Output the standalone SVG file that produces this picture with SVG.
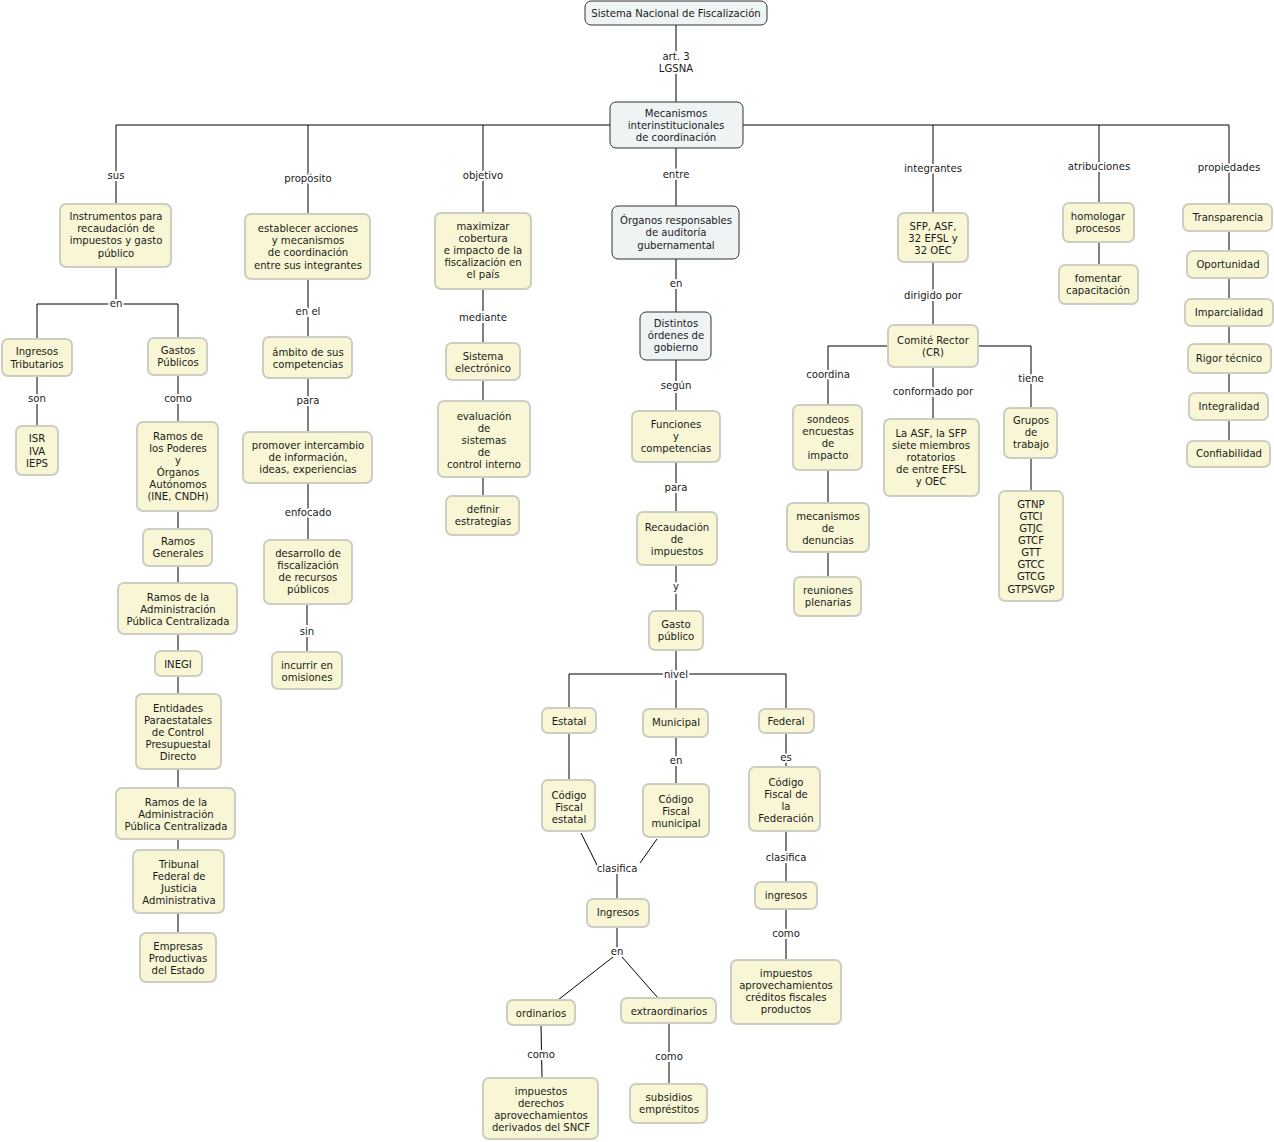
<svg xmlns="http://www.w3.org/2000/svg" width="1274" height="1142" viewBox="0 0 1274 1142">
<style>
.n{fill:#f8f6d4;stroke:#cdcdc2;stroke-width:2}
.b{fill:#eef3f4;stroke:#333;stroke-width:1}
text{font-family:"DejaVu Sans","Liberation Sans",sans-serif;font-size:10.1px;fill:#1a1a1a;text-anchor:middle}
.l{paint-order:stroke;stroke:#fff;stroke-width:4px;stroke-linejoin:round}
#connectors line,#connectors polyline{stroke:#000;stroke-width:1;fill:none}
</style>
<rect width="1274" height="1142" fill="#fff"/>
<g id="connectors">
<line x1="676" y1="25" x2="676" y2="102"/>
<line x1="116" y1="125" x2="1229" y2="125"/>
<line x1="116" y1="125" x2="116" y2="204"/>
<line x1="308" y1="125" x2="308" y2="214"/>
<line x1="483" y1="125" x2="483" y2="213"/>
<line x1="933" y1="125" x2="933" y2="213"/>
<line x1="1099" y1="125" x2="1099" y2="203"/>
<line x1="1229" y1="125" x2="1229" y2="441"/>
<line x1="676" y1="148" x2="676" y2="206"/>
<line x1="116" y1="267" x2="116" y2="304"/>
<polyline points="37,339 37,304 178,304 178,338"/>
<line x1="37" y1="376" x2="37" y2="426"/>
<line x1="178" y1="375" x2="178" y2="933"/>
<line x1="308" y1="279" x2="308" y2="337"/>
<line x1="308" y1="378" x2="308" y2="432"/>
<line x1="308" y1="483" x2="308" y2="540"/>
<line x1="307" y1="604" x2="307" y2="652"/>
<line x1="483" y1="289" x2="483" y2="343"/>
<line x1="483" y1="380" x2="483" y2="401"/>
<line x1="483" y1="477" x2="483" y2="496"/>
<line x1="676" y1="259" x2="676" y2="312"/>
<line x1="676" y1="360" x2="676" y2="411"/>
<line x1="676" y1="462" x2="676" y2="512"/>
<line x1="676" y1="565" x2="676" y2="611"/>
<line x1="676" y1="650" x2="676" y2="709"/>
<polyline points="569,708 569,674 786,674 786,709"/>
<line x1="569" y1="733" x2="569" y2="780"/>
<line x1="676" y1="737" x2="676" y2="784"/>
<line x1="786" y1="733" x2="786" y2="767"/>
<line x1="581" y1="833" x2="598" y2="867"/>
<line x1="657" y1="839" x2="640" y2="863"/>
<line x1="617" y1="870" x2="617" y2="899"/>
<line x1="617" y1="927" x2="617" y2="950"/>
<line x1="613" y1="957" x2="558" y2="1000"/>
<line x1="622" y1="957" x2="658" y2="998"/>
<line x1="541" y1="1025" x2="542" y2="1078"/>
<line x1="669" y1="1023" x2="669" y2="1084"/>
<line x1="786" y1="831" x2="786" y2="882"/>
<line x1="786" y1="909" x2="786" y2="960"/>
<line x1="933" y1="262" x2="933" y2="325"/>
<polyline points="888,346 828,346 828,405"/>
<polyline points="978,346 1031,346 1031,408"/>
<line x1="933" y1="367" x2="933" y2="419"/>
<line x1="828" y1="470" x2="828" y2="503"/>
<line x1="828" y1="552" x2="828" y2="577"/>
<line x1="1031" y1="458" x2="1031" y2="491"/>
<line x1="1099" y1="242" x2="1099" y2="265"/>
</g>
<g id="labels">
<text class="l" x="676" y="60">art. 3</text>
<text class="l" x="676" y="72">LGSNA</text>
<text class="l" x="116" y="179">sus</text>
<text class="l" x="308" y="182">propósito</text>
<text class="l" x="483" y="179">objetivo</text>
<text class="l" x="676" y="178">entre</text>
<text class="l" x="933" y="172">integrantes</text>
<text class="l" x="1099" y="170">atribuciones</text>
<text class="l" x="1229" y="171">propiedades</text>
<text class="l" x="116" y="307">en</text>
<text class="l" x="37" y="402">son</text>
<text class="l" x="178" y="402">como</text>
<text class="l" x="308" y="315">en el</text>
<text class="l" x="308" y="404">para</text>
<text class="l" x="308" y="516">enfocado</text>
<text class="l" x="307" y="635">sin</text>
<text class="l" x="483" y="321">mediante</text>
<text class="l" x="676" y="287">en</text>
<text class="l" x="676" y="389">según</text>
<text class="l" x="676" y="491">para</text>
<text class="l" x="676" y="590">y</text>
<text class="l" x="676" y="678">nivel</text>
<text class="l" x="676" y="764">en</text>
<text class="l" x="786" y="761">es</text>
<text class="l" x="617" y="872">clasifica</text>
<text class="l" x="617" y="955">en</text>
<text class="l" x="541" y="1058">como</text>
<text class="l" x="669" y="1060">como</text>
<text class="l" x="786" y="861">clasifica</text>
<text class="l" x="786" y="937">como</text>
<text class="l" x="933" y="299">dirigido por</text>
<text class="l" x="828" y="378">coordina</text>
<text class="l" x="933" y="395">conformado por</text>
<text class="l" x="1031" y="382">tiene</text>
</g>
<g id="n-sistema"><rect class="b" x="585" y="1" width="182" height="24" rx="6"/><text x="676" y="17">Sistema Nacional de Fiscalización</text></g>
<g id="n-mecanismos"><rect class="b" x="610" y="102" width="133" height="46" rx="6"/><text x="676" y="117">Mecanismos</text><text x="676" y="129">interinstitucionales</text><text x="676" y="141">de coordinación</text></g>
<g id="n-instrumentos"><rect class="n" x="60" y="204" width="111" height="63" rx="6"/><text x="116" y="220">Instrumentos para</text><text x="116" y="232">recaudación de</text><text x="116" y="244">impuestos y gasto</text><text x="116" y="257">público</text></g>
<g id="n-ingtrib"><rect class="n" x="2" y="339" width="70" height="37" rx="6"/><text x="37" y="355">Ingresos</text><text x="37" y="368">Tributarios</text></g>
<g id="n-gastos"><rect class="n" x="148" y="338" width="59" height="37" rx="6"/><text x="178" y="354">Gastos</text><text x="178" y="366">Públicos</text></g>
<g id="n-isr"><rect class="n" x="16" y="426" width="42" height="49" rx="6"/><text x="37" y="442">ISR</text><text x="37" y="455">IVA</text><text x="37" y="467">IEPS</text></g>
<g id="n-ramospoderes"><rect class="n" x="137" y="422" width="81" height="89" rx="6"/><text x="178" y="440">Ramos de</text><text x="178" y="452">los Poderes</text><text x="178" y="464">y</text><text x="178" y="476">Órganos</text><text x="178" y="488">Autónomos</text><text x="178" y="500">(INE, CNDH)</text></g>
<g id="n-ramosgen"><rect class="n" x="143" y="529" width="69" height="37" rx="6"/><text x="178" y="545">Ramos</text><text x="178" y="557">Generales</text></g>
<g id="n-ramosadm1"><rect class="n" x="118" y="583" width="119" height="51" rx="6"/><text x="178" y="601">Ramos de la</text><text x="178" y="613">Administración</text><text x="178" y="625">Pública Centralizada</text></g>
<g id="n-inegi"><rect class="n" x="155" y="651" width="47" height="25" rx="6"/><text x="178" y="668">INEGI</text></g>
<g id="n-entidades"><rect class="n" x="136" y="694" width="85" height="75" rx="6"/><text x="178" y="712">Entidades</text><text x="178" y="724">Paraestatales</text><text x="178" y="736">de Control</text><text x="178" y="748">Presupuestal</text><text x="178" y="760">Directo</text></g>
<g id="n-ramosadm2"><rect class="n" x="116" y="788" width="119" height="51" rx="6"/><text x="176" y="806">Ramos de la</text><text x="176" y="818">Administración</text><text x="176" y="830">Pública Centralizada</text></g>
<g id="n-tribunal"><rect class="n" x="133" y="850" width="91" height="63" rx="6"/><text x="179" y="868">Tribunal</text><text x="179" y="880">Federal de</text><text x="179" y="892">Justicia</text><text x="179" y="904">Administrativa</text></g>
<g id="n-empresas"><rect class="n" x="140" y="933" width="76" height="49" rx="6"/><text x="178" y="950">Empresas</text><text x="178" y="962">Productivas</text><text x="178" y="974">del Estado</text></g>
<g id="n-establecer"><rect class="n" x="245" y="214" width="125" height="65" rx="6"/><text x="308" y="232">establecer acciones</text><text x="308" y="244">y mecanismos</text><text x="308" y="256">de coordinación</text><text x="308" y="269">entre sus integrantes</text></g>
<g id="n-ambito"><rect class="n" x="263" y="337" width="89" height="41" rx="6"/><text x="308" y="356">ámbito de sus</text><text x="308" y="368">competencias</text></g>
<g id="n-promover"><rect class="n" x="243" y="432" width="129" height="51" rx="6"/><text x="308" y="449">promover intercambio</text><text x="308" y="461">de información,</text><text x="308" y="473">ideas, experiencias</text></g>
<g id="n-desarrollo"><rect class="n" x="264" y="540" width="88" height="64" rx="6"/><text x="308" y="557">desarrollo de</text><text x="308" y="569">fiscalización</text><text x="308" y="581">de recursos</text><text x="308" y="593">públicos</text></g>
<g id="n-incurrir"><rect class="n" x="272" y="652" width="70" height="37" rx="6"/><text x="307" y="669">incurrir en</text><text x="307" y="681">omisiones</text></g>
<g id="n-maximizar"><rect class="n" x="435" y="213" width="96" height="76" rx="6"/><text x="483" y="230">maximizar</text><text x="483" y="242">cobertura</text><text x="483" y="254">e impacto de la</text><text x="483" y="266">fiscalización en</text><text x="483" y="278">el país</text></g>
<g id="n-sistemaelec"><rect class="n" x="446" y="343" width="74" height="37" rx="6"/><text x="483" y="360">Sistema</text><text x="483" y="372">electrónico</text></g>
<g id="n-evaluacion"><rect class="n" x="438" y="401" width="92" height="76" rx="6"/><text x="484" y="420">evaluación</text><text x="484" y="432">de</text><text x="484" y="444">sistemas</text><text x="484" y="456">de</text><text x="484" y="468">control interno</text></g>
<g id="n-definir"><rect class="n" x="446" y="496" width="73" height="39" rx="6"/><text x="483" y="513">definir</text><text x="483" y="525">estrategias</text></g>
<g id="n-organos"><rect class="b" x="612" y="206" width="127" height="53" rx="6"/><text x="676" y="224">Órganos responsables</text><text x="676" y="236">de auditoría</text><text x="676" y="249">gubernamental</text></g>
<g id="n-distintos"><rect class="b" x="640" y="312" width="71" height="48" rx="6"/><text x="676" y="327">Distintos</text><text x="676" y="339">órdenes de</text><text x="676" y="351">gobierno</text></g>
<g id="n-funciones"><rect class="n" x="632" y="411" width="88" height="51" rx="6"/><text x="676" y="428">Funciones</text><text x="676" y="440">y</text><text x="676" y="452">competencias</text></g>
<g id="n-recaudacion"><rect class="n" x="637" y="512" width="80" height="53" rx="6"/><text x="677" y="531">Recaudación</text><text x="677" y="543">de</text><text x="677" y="555">impuestos</text></g>
<g id="n-gastopub"><rect class="n" x="649" y="611" width="54" height="39" rx="6"/><text x="676" y="628">Gasto</text><text x="676" y="640">público</text></g>
<g id="n-estatal"><rect class="n" x="542" y="708" width="54" height="25" rx="6"/><text x="569" y="725">Estatal</text></g>
<g id="n-municipal"><rect class="n" x="643" y="709" width="65" height="28" rx="6"/><text x="676" y="726">Municipal</text></g>
<g id="n-federal"><rect class="n" x="759" y="709" width="55" height="24" rx="6"/><text x="786" y="725">Federal</text></g>
<g id="n-cfestatal"><rect class="n" x="542" y="780" width="53" height="51" rx="6"/><text x="569" y="799">Código</text><text x="569" y="811">Fiscal</text><text x="569" y="823">estatal</text></g>
<g id="n-cfmunicipal"><rect class="n" x="643" y="784" width="66" height="53" rx="6"/><text x="676" y="803">Código</text><text x="676" y="815">Fiscal</text><text x="676" y="827">municipal</text></g>
<g id="n-cff"><rect class="n" x="749" y="767" width="71" height="64" rx="6"/><text x="786" y="786">Código</text><text x="786" y="798">Fiscal de</text><text x="786" y="810">la</text><text x="786" y="822">Federación</text></g>
<g id="n-ingresos"><rect class="n" x="587" y="899" width="62" height="28" rx="6"/><text x="618" y="916">Ingresos</text></g>
<g id="n-ordinarios"><rect class="n" x="507" y="1000" width="68" height="25" rx="6"/><text x="541" y="1017">ordinarios</text></g>
<g id="n-extraordinarios"><rect class="n" x="621" y="998" width="95" height="25" rx="6"/><text x="669" y="1015">extraordinarios</text></g>
<g id="n-impord"><rect class="n" x="483" y="1078" width="115" height="61" rx="6"/><text x="541" y="1095">impuestos</text><text x="541" y="1107">derechos</text><text x="541" y="1119">aprovechamientos</text><text x="541" y="1131">derivados del SNCF</text></g>
<g id="n-subsidios"><rect class="n" x="630" y="1084" width="77" height="39" rx="6"/><text x="669" y="1101">subsidios</text><text x="669" y="1113">empréstitos</text></g>
<g id="n-ingresosfed"><rect class="n" x="755" y="882" width="62" height="27" rx="6"/><text x="786" y="899">ingresos</text></g>
<g id="n-impfed"><rect class="n" x="731" y="960" width="110" height="64" rx="6"/><text x="786" y="977">impuestos</text><text x="786" y="989">aprovechamientos</text><text x="786" y="1001">créditos fiscales</text><text x="786" y="1013">productos</text></g>
<g id="n-sfp"><rect class="n" x="898" y="213" width="70" height="49" rx="6"/><text x="933" y="230">SFP, ASF,</text><text x="933" y="242">32 EFSL y</text><text x="933" y="254">32 OEC</text></g>
<g id="n-comite"><rect class="n" x="888" y="325" width="90" height="42" rx="6"/><text x="933" y="344">Comité Rector</text><text x="933" y="356">(CR)</text></g>
<g id="n-sondeos"><rect class="n" x="793" y="405" width="69" height="65" rx="6"/><text x="828" y="423">sondeos</text><text x="828" y="435">encuestas</text><text x="828" y="447">de</text><text x="828" y="459">impacto</text></g>
<g id="n-mecdenuncias"><rect class="n" x="787" y="503" width="82" height="49" rx="6"/><text x="828" y="520">mecanismos</text><text x="828" y="532">de</text><text x="828" y="544">denuncias</text></g>
<g id="n-reuniones"><rect class="n" x="794" y="577" width="67" height="39" rx="6"/><text x="828" y="594">reuniones</text><text x="828" y="606">plenarias</text></g>
<g id="n-laasf"><rect class="n" x="884" y="419" width="95" height="77" rx="6"/><text x="931" y="437">La ASF, la SFP</text><text x="931" y="449">siete miembros</text><text x="931" y="461">rotatorios</text><text x="931" y="473">de entre EFSL</text><text x="931" y="485">y OEC</text></g>
<g id="n-grupos"><rect class="n" x="1004" y="408" width="53" height="50" rx="6"/><text x="1031" y="424">Grupos</text><text x="1031" y="436">de</text><text x="1031" y="448">trabajo</text></g>
<g id="n-gt"><rect class="n" x="999" y="491" width="64" height="110" rx="6"/><text x="1031" y="508">GTNP</text><text x="1031" y="520">GTCI</text><text x="1031" y="532">GTJC</text><text x="1031" y="544">GTCF</text><text x="1031" y="556">GTT</text><text x="1031" y="568">GTCC</text><text x="1031" y="580">GTCG</text><text x="1031" y="593">GTPSVGP</text></g>
<g id="n-homologar"><rect class="n" x="1063" y="203" width="71" height="39" rx="6"/><text x="1098" y="220">homologar</text><text x="1098" y="232">procesos</text></g>
<g id="n-fomentar"><rect class="n" x="1059" y="265" width="79" height="39" rx="6"/><text x="1098" y="282">fomentar</text><text x="1098" y="294">capacitación</text></g>
<g id="n-transparencia"><rect class="n" x="1183" y="204" width="89" height="27" rx="6"/><text x="1228" y="221">Transparencia</text></g>
<g id="n-oportunidad"><rect class="n" x="1187" y="251" width="81" height="27" rx="6"/><text x="1228" y="268">Oportunidad</text></g>
<g id="n-imparcialidad"><rect class="n" x="1185" y="299" width="88" height="27" rx="6"/><text x="1229" y="316">Imparcialidad</text></g>
<g id="n-rigor"><rect class="n" x="1188" y="344" width="83" height="29" rx="6"/><text x="1229" y="362">Rigor técnico</text></g>
<g id="n-integralidad"><rect class="n" x="1189" y="393" width="79" height="27" rx="6"/><text x="1229" y="410">Integralidad</text></g>
<g id="n-confiabilidad"><rect class="n" x="1187" y="441" width="83" height="26" rx="6"/><text x="1229" y="457">Confiabilidad</text></g>
</svg>
